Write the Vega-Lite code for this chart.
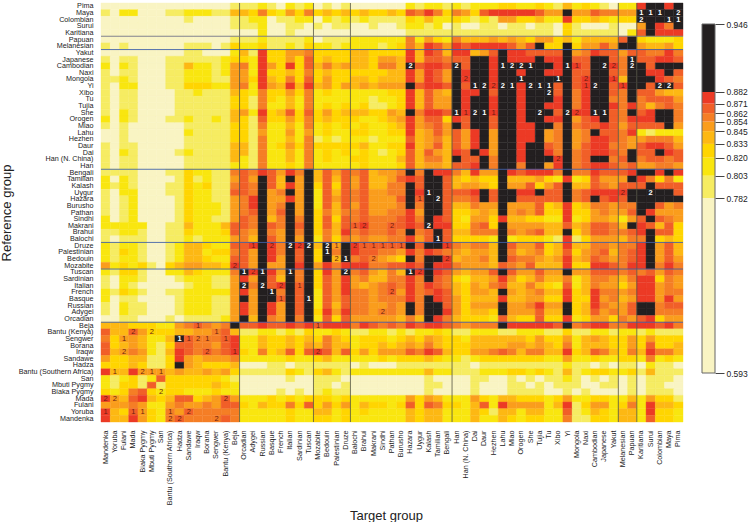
{"$schema":"https://vega.github.io/schema/vega-lite/v6.json","background":"white","padding":{"left":0,"top":1,"right":0,"bottom":0},"config":{"font":"Liberation Sans","view":{"stroke":null}},"datasets":{"targets":[{"i":1,"t":"Mandenka"},{"i":2,"t":"Yoruba"},{"i":3,"t":"Fulani"},{"i":4,"t":"Mada"},{"i":5,"t":"Biaka Pygmy"},{"i":6,"t":"Mbuti Pygmy"},{"i":7,"t":"San"},{"i":8,"t":"Bantu (Southern Africa)"},{"i":9,"t":"Hadza"},{"i":10,"t":"Sandawe"},{"i":11,"t":"Iraqw"},{"i":12,"t":"Borana"},{"i":13,"t":"Sengwer"},{"i":14,"t":"Bantu (Kenya)"},{"i":15,"t":"Beja"},{"i":16,"t":"Orcadian"},{"i":17,"t":"Adygei"},{"i":18,"t":"Russian"},{"i":19,"t":"Basque"},{"i":20,"t":"French"},{"i":21,"t":"Italian"},{"i":22,"t":"Sardinian"},{"i":23,"t":"Tuscan"},{"i":24,"t":"Mozabite"},{"i":25,"t":"Bedouin"},{"i":26,"t":"Palestinian"},{"i":27,"t":"Druze"},{"i":28,"t":"Balochi"},{"i":29,"t":"Brahui"},{"i":30,"t":"Makrani"},{"i":31,"t":"Sindhi"},{"i":32,"t":"Pathan"},{"i":33,"t":"Burusho"},{"i":34,"t":"Hazara"},{"i":35,"t":"Uygur"},{"i":36,"t":"Kalash"},{"i":37,"t":"Tamilian"},{"i":38,"t":"Bengali"},{"i":39,"t":"Han"},{"i":40,"t":"Han (N. China)"},{"i":41,"t":"Dai"},{"i":42,"t":"Daur"},{"i":43,"t":"Hezhen"},{"i":44,"t":"Lahu"},{"i":45,"t":"Miao"},{"i":46,"t":"Orogen"},{"i":47,"t":"She"},{"i":48,"t":"Tujia"},{"i":49,"t":"Tu"},{"i":50,"t":"Xibo"},{"i":51,"t":"Yi"},{"i":52,"t":"Mongola"},{"i":53,"t":"Naxi"},{"i":54,"t":"Cambodian"},{"i":55,"t":"Japanese"},{"i":56,"t":"Yakut"},{"i":57,"t":"Melanesian"},{"i":58,"t":"Papuan"},{"i":59,"t":"Karitiana"},{"i":60,"t":"Surui"},{"i":61,"t":"Colombian"},{"i":62,"t":"Maya"},{"i":63,"t":"Pima"}],"cells":[
{"r":"Pima","v":[0,0,0,0,0,0,0,0,0,0,0,0,0,0,1,1,1,2,1,0,2,1,2,0,1,0,1,0,0,0,0,0,0,2,1,2,2,1,2,1,2,2,2,3,3,2,2,3,2,1,4,2,3,2,1,0,2,2,8,9,9,8,9]},
{"r":"Maya","v":[1,0,2,2,0,0,0,1,1,2,2,2,1,1,4,4,3,6,3,2,5,3,6,3,4,3,4,3,4,3,3,4,3,7,6,8,6,3,6,5,3,7,8,8,8,8,8,7,5,5,9,5,5,7,6,6,5,5,9,9,9,9,9]},
{"r":"Colombian","v":[0,0,0,0,0,0,0,0,0,1,0,0,0,0,1,1,2,2,0,1,1,2,2,0,2,1,2,1,2,1,1,1,1,3,2,4,2,2,3,2,1,2,1,5,5,3,3,4,2,2,8,3,3,4,3,2,3,3,9,9,9,9,9]},
{"r":"Surui","v":[0,0,0,0,0,0,0,0,0,0,0,0,0,0,1,1,1,2,0,0,1,1,0,1,0,1,1,0,0,1,0,0,1,2,2,1,2,0,1,0,0,1,1,0,1,1,0,1,1,0,3,1,0,0,0,1,0,0,5,9,8,6,9]},
{"r":"Karitiana","v":[0,0,0,0,0,0,0,0,0,0,0,0,0,0,0,0,0,2,0,0,1,0,0,0,0,0,0,0,0,0,0,0,0,1,1,1,1,1,1,1,1,1,1,1,1,1,1,1,1,0,3,1,1,1,1,1,0,2,7,9,8,8,8]},
{"r":"Papuan","v":[0,0,0,0,0,0,0,0,0,0,0,0,0,0,1,1,1,2,1,1,1,1,2,0,1,1,1,2,2,2,2,2,2,6,2,5,3,2,6,4,4,4,5,4,5,4,3,5,5,3,4,2,4,4,4,4,7,9,3,2,2,2,3]},
{"r":"Melanesian","v":[1,0,1,0,0,0,0,0,0,1,1,1,0,1,3,2,2,3,1,1,2,1,3,2,2,1,2,2,2,2,1,2,3,6,4,8,7,5,8,7,8,8,8,8,7,5,7,9,3,3,9,3,5,5,7,5,9,9,5,4,4,5,3]},
{"r":"Yakut","v":[0,0,0,0,0,0,0,0,0,1,1,0,0,0,2,4,1,8,3,3,5,5,6,3,3,3,3,4,4,3,3,3,3,8,4,8,7,4,8,8,4,5,7,9,8,8,7,7,7,7,9,5,6,8,7,7,5,7,7,6,6,8,6]},
{"r":"Japanese","v":[1,0,1,1,0,0,0,1,1,1,1,1,1,2,3,3,2,8,3,3,5,3,7,3,4,3,3,4,4,3,5,5,4,8,4,7,7,6,7,7,9,9,8,9,8,8,8,9,8,8,9,7,7,9,9,7,6,9,7,7,8,8,7]},
{"r":"Cambodian","v":[2,0,2,1,0,0,0,1,1,4,2,2,1,2,5,6,2,8,5,3,8,3,7,4,6,4,5,4,4,3,6,6,4,9,7,8,8,7,9,7,9,9,8,9,9,9,9,9,9,8,9,8,7,9,9,8,6,9,9,7,9,9,9]},
{"r":"Naxi","v":[1,0,1,1,0,0,0,1,1,2,2,2,1,2,5,5,2,8,3,3,4,3,6,3,4,3,3,3,3,3,3,4,4,8,5,8,7,5,9,8,9,9,8,9,9,8,9,9,8,8,9,7,7,9,9,7,6,9,9,8,8,9,7]},
{"r":"Mongola","v":[1,1,2,1,0,0,0,1,1,2,2,2,1,1,5,5,3,8,4,3,6,3,7,3,5,3,3,4,4,3,4,4,4,8,5,8,7,5,9,8,9,9,8,9,9,9,9,9,9,9,9,7,8,9,9,8,4,9,9,9,8,7,6]},
{"r":"Yi","v":[1,0,2,2,0,0,0,1,1,3,3,3,2,2,5,6,2,8,5,4,8,4,8,4,5,3,5,4,5,4,5,5,5,9,7,8,8,7,9,7,9,9,8,9,9,8,9,9,9,7,9,7,8,9,9,7,8,9,9,7,9,9,7]},
{"r":"Xibo","v":[1,0,1,1,0,0,0,0,1,1,2,1,1,1,4,3,2,6,3,3,5,3,6,2,3,2,2,2,2,2,2,3,3,8,4,7,5,4,9,8,8,9,7,9,9,8,9,9,9,7,9,6,8,9,9,7,6,9,7,7,5,4,4]},
{"r":"Tu","v":[1,0,1,1,0,0,0,0,1,1,1,1,1,1,3,3,1,6,3,2,4,2,6,2,2,2,2,2,2,1,2,2,3,8,4,7,5,5,9,8,9,9,8,9,9,8,9,9,9,8,9,6,8,9,9,6,6,9,6,7,7,7,5]},
{"r":"Tujia","v":[1,0,1,1,0,0,0,0,1,1,1,1,1,1,3,3,1,6,2,2,4,2,6,2,3,2,3,2,3,1,1,2,3,8,4,7,5,5,9,8,9,9,8,9,9,8,9,9,8,8,9,6,8,9,9,8,6,8,6,4,6,7,6]},
{"r":"She","v":[1,0,2,1,0,0,0,0,1,1,1,1,1,1,4,5,2,8,3,4,7,3,7,3,5,3,4,4,4,3,3,5,4,9,6,8,8,7,9,8,9,9,8,9,9,8,9,9,9,7,9,8,8,9,9,7,6,9,7,8,9,9,6]},
{"r":"Orogen","v":[2,0,2,1,0,0,0,1,1,2,1,1,2,1,4,3,1,7,3,3,5,3,6,3,4,3,3,3,2,2,3,4,5,8,5,7,7,3,8,7,9,9,7,9,9,8,9,9,8,8,9,5,7,8,9,7,6,8,8,8,9,9,6]},
{"r":"Miao","v":[1,0,1,0,0,0,0,0,0,1,1,1,1,1,3,3,1,6,2,2,4,2,6,2,3,2,3,2,3,2,2,3,4,8,5,6,7,5,9,7,9,9,7,9,9,8,8,9,9,6,9,6,7,7,8,7,5,7,7,7,7,9,5]},
{"r":"Lahu","v":[0,0,1,0,0,0,0,0,0,2,1,1,1,1,3,3,1,5,2,2,5,2,5,2,3,2,2,3,3,2,2,3,3,8,4,5,7,5,7,5,8,9,5,9,9,8,8,9,5,6,9,5,6,9,7,7,6,8,2,1,2,2,2]},
{"r":"Hezhen","v":[0,0,1,0,0,0,0,0,0,1,1,1,1,1,3,3,1,6,2,2,4,2,6,1,2,1,2,2,2,1,2,2,2,7,4,5,6,4,7,5,8,9,5,9,9,8,8,9,5,6,9,5,6,8,8,7,6,5,5,6,6,6,4]},
{"r":"Daur","v":[1,0,1,1,0,0,0,0,0,1,1,1,1,1,4,4,1,6,2,3,5,3,6,3,3,3,3,3,4,2,2,3,3,8,4,5,7,4,7,5,8,9,5,9,9,8,9,9,7,6,9,5,7,8,8,6,6,5,7,8,8,7,5]},
{"r":"Dai","v":[1,0,2,1,0,0,0,0,1,2,1,1,1,1,4,4,1,6,2,2,4,2,6,2,3,2,3,2,3,2,1,2,3,7,4,7,5,4,8,7,9,8,5,9,9,8,9,9,8,6,9,6,7,8,8,7,6,9,7,7,9,8,7]},
{"r":"Han (N. China)","v":[1,0,1,1,0,0,0,0,0,1,1,1,1,1,4,2,1,6,2,2,4,2,6,2,3,2,2,3,3,2,2,2,4,7,4,6,6,4,9,7,7,9,6,9,9,8,9,9,9,8,9,6,7,9,9,6,7,9,6,7,7,6,7]},
{"r":"Han","v":[1,0,1,1,0,0,0,0,0,1,1,1,1,1,2,2,1,6,2,2,3,2,6,2,2,2,2,2,3,2,2,2,3,7,4,5,5,4,7,7,8,9,6,9,9,6,9,9,5,8,9,6,7,8,8,7,6,7,5,5,6,6,5]},
{"r":"Bengali","v":[1,1,1,1,0,0,0,1,1,3,2,2,1,1,6,7,6,8,7,5,8,6,9,4,7,5,7,6,7,4,5,5,6,9,6,9,8,8,6,4,8,5,5,9,8,7,8,8,8,6,9,6,6,8,7,7,7,8,9,9,8,9,8]},
{"r":"Tamilian","v":[2,0,2,1,0,0,0,0,1,3,1,2,1,1,5,7,5,9,7,4,9,5,9,4,7,4,7,5,7,4,4,5,7,8,7,9,9,7,4,3,4,3,3,9,4,4,4,5,3,2,8,2,3,7,5,5,5,9,8,6,3,6,2]},
{"r":"Kalash","v":[2,1,2,1,0,0,0,1,1,3,2,3,1,1,6,7,6,9,7,4,8,5,9,3,7,3,7,5,7,4,4,6,6,9,7,9,9,7,4,5,5,4,3,9,5,5,7,3,5,7,9,4,4,7,6,5,7,7,7,9,7,7,7]},
{"r":"Uygur","v":[1,0,2,2,0,0,0,1,1,3,2,2,1,1,7,7,6,9,5,6,9,5,9,2,7,4,7,6,7,5,5,6,6,9,8,9,9,7,7,7,8,9,7,9,9,8,8,9,7,7,9,6,7,8,8,8,8,9,9,9,9,9,7]},
{"r":"Hazara","v":[1,0,1,2,0,0,0,0,1,3,2,2,1,1,5,6,8,9,5,5,8,5,9,2,7,5,7,6,7,5,5,5,7,9,7,9,9,7,6,6,7,9,7,9,9,7,7,7,7,7,9,6,7,9,7,8,7,9,9,9,9,9,9]},
{"r":"Burusho","v":[1,0,1,2,0,0,0,0,1,3,2,2,2,1,5,6,8,9,5,6,9,5,9,2,7,4,7,5,7,5,5,5,6,9,6,9,9,7,4,4,6,5,5,9,5,5,5,7,3,4,8,3,4,6,6,5,6,6,9,9,7,5,6]},
{"r":"Pathan","v":[1,0,1,2,0,0,0,0,1,3,2,2,2,1,5,6,7,9,5,7,9,5,9,3,6,4,6,6,7,5,5,6,6,8,5,9,9,7,3,3,4,5,4,9,5,6,5,7,3,3,8,3,3,5,6,5,5,7,9,8,5,5,5]},
{"r":"Sindhi","v":[2,0,1,2,0,0,0,0,1,3,2,2,1,1,5,7,6,9,4,6,9,6,9,3,7,3,7,6,7,6,6,6,7,8,6,9,8,7,3,2,5,5,3,8,4,4,3,3,2,2,8,2,3,5,5,4,2,5,7,9,7,6,5]},
{"r":"Makrani","v":[2,2,2,2,2,0,0,1,1,4,2,2,2,4,7,7,6,9,7,6,9,7,9,3,7,4,7,7,8,6,6,7,7,8,7,9,8,8,3,3,6,7,3,9,5,5,5,5,4,4,7,4,5,7,7,6,4,9,8,7,4,7,3]},
{"r":"Brahui","v":[1,1,2,2,1,0,0,1,1,3,2,2,2,3,7,6,5,9,6,5,9,6,9,3,6,4,8,6,7,6,6,7,6,9,6,7,9,7,4,4,6,6,6,9,6,5,6,7,4,4,9,3,5,7,7,6,6,7,8,9,7,7,3]},
{"r":"Balochi","v":[1,0,1,1,1,0,0,1,1,2,1,2,2,2,5,6,4,9,7,5,9,5,9,2,6,3,6,5,6,5,5,6,6,8,5,7,9,7,3,3,3,3,2,9,2,3,3,3,2,1,8,1,3,5,5,5,4,6,6,9,3,4,3]},
{"r":"Druze","v":[2,1,2,2,1,0,0,1,2,4,4,3,2,2,7,7,8,9,8,6,9,8,9,4,9,5,9,8,7,7,7,7,7,9,7,9,9,8,6,5,6,6,4,9,7,5,5,7,3,4,8,4,4,6,6,5,6,6,8,9,5,7,4]},
{"r":"Palestinian","v":[2,1,3,2,1,0,0,1,2,4,4,2,3,3,6,7,5,9,8,6,9,7,9,3,9,6,9,8,7,7,6,6,5,8,6,8,7,6,5,4,5,5,4,9,6,4,5,6,3,4,7,3,5,6,7,4,6,7,8,9,5,7,4]},
{"r":"Bedouin","v":[2,1,2,2,1,0,0,1,2,4,4,3,2,2,7,7,5,9,8,5,9,7,9,3,9,4,9,6,7,6,5,4,3,9,6,9,9,8,4,5,5,6,4,9,7,6,6,5,4,5,8,4,5,7,6,5,6,7,8,9,5,7,5]},
{"r":"Mozabite","v":[5,2,3,2,3,1,0,3,4,5,5,4,4,3,8,7,5,9,5,5,9,8,9,5,8,6,8,8,8,6,6,7,7,8,7,9,8,8,6,5,5,5,4,7,6,5,7,4,4,4,8,3,3,8,8,7,6,8,8,9,6,8,6]},
{"r":"Tuscan","v":[2,1,3,3,1,0,0,2,2,4,3,2,2,2,6,9,8,9,8,5,9,6,9,3,8,5,9,6,7,5,4,6,4,9,8,9,8,7,5,4,5,5,7,9,7,5,5,7,5,5,9,5,5,7,7,7,6,7,6,7,5,7,6]},
{"r":"Sardinian","v":[1,0,2,2,1,0,0,0,1,2,2,2,1,1,5,8,5,9,7,4,9,6,9,3,7,5,8,5,6,4,4,6,6,8,6,9,7,6,3,2,4,4,5,8,5,3,4,6,4,4,6,2,4,6,6,5,4,6,8,8,3,6,5]},
{"r":"Italian","v":[1,0,2,1,0,0,0,0,0,1,2,2,1,1,5,9,6,9,7,8,9,7,9,3,7,5,8,5,4,5,6,7,6,8,6,8,7,6,4,3,5,4,6,7,4,4,6,4,3,2,7,2,4,6,5,5,3,5,8,8,5,6,5]},
{"r":"French","v":[2,1,3,2,1,0,0,1,1,2,2,2,2,2,5,8,5,9,9,6,9,7,9,2,7,5,8,6,6,5,6,7,5,8,6,7,8,7,4,3,5,5,4,9,5,4,5,6,4,4,8,3,4,8,6,6,5,6,8,8,5,6,6]},
{"r":"Basque","v":[2,0,1,1,0,0,0,0,1,2,2,2,1,1,5,9,5,9,9,7,9,7,9,2,7,5,7,6,6,5,6,6,6,8,6,9,8,7,5,3,4,4,4,8,4,4,5,5,3,3,8,3,3,8,5,6,4,5,8,8,5,8,5]},
{"r":"Russian","v":[1,0,2,1,1,0,0,0,1,2,2,2,1,1,5,8,5,9,8,5,9,7,9,2,7,4,7,6,6,5,5,6,5,9,6,9,9,7,5,3,5,5,5,9,5,5,6,8,5,5,9,3,4,8,6,5,5,7,9,9,6,7,7]},
{"r":"Adygei","v":[1,0,2,1,1,0,0,0,1,2,2,2,1,1,5,8,5,9,8,5,9,7,9,3,8,5,8,6,6,5,6,6,5,9,6,9,9,8,5,3,4,4,3,9,5,5,5,7,4,4,9,3,4,7,5,6,5,7,9,9,6,6,6]},
{"r":"Orcadian","v":[0,0,1,1,0,0,0,1,0,1,1,1,1,2,5,9,4,9,6,5,9,6,9,2,7,3,7,5,5,5,5,5,4,6,4,9,8,6,4,3,3,3,2,7,4,3,3,7,3,3,8,2,3,5,5,3,6,5,7,8,3,5,5]},
{"r":"Beja","v":[4,4,4,3,3,3,2,2,5,6,7,6,5,6,9,7,7,8,7,7,8,7,8,7,8,8,8,6,8,7,6,7,6,8,7,8,8,7,6,5,6,6,6,9,8,8,8,8,8,7,9,6,7,8,8,6,6,8,8,8,7,8,6]},
{"r":"Bantu (Kenya)","v":[7,4,4,7,5,3,3,3,4,4,5,5,6,7,4,1,1,2,2,1,2,1,3,2,2,3,2,1,1,2,2,1,2,1,2,2,3,2,1,1,2,2,2,1,1,2,2,2,1,1,3,1,1,2,2,1,2,2,1,2,1,1,1]},
{"r":"Sengwer","v":[6,3,5,5,4,2,2,4,9,7,6,6,6,7,8,2,2,4,3,3,4,3,4,3,6,4,3,2,3,3,3,2,3,4,3,5,4,3,3,2,4,4,4,4,4,4,3,5,3,3,5,2,4,5,4,3,3,5,3,5,3,3,3]},
{"r":"Borana","v":[7,3,4,5,4,2,1,3,7,7,6,6,5,7,8,2,2,4,3,3,4,3,5,4,6,4,4,2,3,3,4,3,4,5,4,6,4,3,3,3,4,4,4,4,5,5,4,5,4,3,6,2,4,4,4,3,3,5,3,7,3,3,4]},
{"r":"Iraqw","v":[7,4,5,6,5,2,1,4,8,7,6,7,6,7,8,3,2,6,3,4,7,3,7,8,7,4,7,3,5,3,5,5,5,7,6,8,7,4,3,3,5,5,6,7,6,4,6,6,4,4,8,3,4,7,6,4,3,6,4,8,6,6,4]},
{"r":"Sandawe","v":[5,3,3,4,4,1,1,3,8,5,4,5,5,5,6,2,2,2,2,2,3,2,2,3,4,2,2,2,2,2,3,2,3,3,3,4,3,2,2,1,2,3,3,3,3,3,3,3,2,2,5,2,2,3,2,2,3,3,2,6,2,3,2]},
{"r":"Hadza","v":[3,3,3,4,3,1,1,3,9,5,4,3,3,3,4,0,0,0,1,1,0,1,1,1,1,1,1,0,1,0,0,0,1,1,1,1,1,1,1,1,0,1,1,1,1,1,1,1,1,1,2,1,1,0,1,0,1,1,0,2,1,1,0]},
{"r":"Bantu (Southern Africa)","v":[8,4,4,8,5,5,5,4,5,4,4,5,4,5,3,1,1,1,1,1,3,2,1,3,4,2,1,2,2,2,2,2,2,2,2,4,2,2,1,1,1,2,2,2,3,3,2,3,2,1,4,1,2,3,3,2,2,3,1,4,1,1,1]},
{"r":"San","v":[2,1,2,3,1,2,7,3,3,3,3,3,3,2,1,0,0,0,0,0,1,0,0,1,1,1,0,0,0,0,0,0,0,0,0,1,0,0,0,0,1,1,0,0,1,0,1,0,1,1,2,1,0,1,0,1,0,1,0,1,1,1,0]},
{"r":"Mbuti Pygmy","v":[2,1,3,3,1,7,1,3,3,3,3,3,4,3,2,0,0,0,0,0,0,0,0,1,1,0,1,0,0,0,0,0,0,0,0,1,1,0,0,0,1,0,0,0,1,1,0,1,0,1,1,1,0,0,1,1,0,1,0,1,1,0,0]},
{"r":"Biaka Pygmy","v":[3,2,3,6,7,3,2,3,3,2,2,2,3,2,2,0,0,0,0,1,0,1,0,1,2,1,1,0,0,0,0,0,0,0,0,1,0,0,0,0,1,0,0,0,1,1,1,1,0,0,1,0,1,0,0,0,0,1,0,1,1,1,0]},
{"r":"Mada","v":[8,5,4,7,8,4,3,4,7,7,3,4,5,7,5,2,2,2,3,2,3,2,3,3,3,2,3,2,2,2,2,2,2,5,3,5,4,2,2,2,5,3,2,4,4,3,3,3,2,3,5,2,2,3,3,2,2,4,2,5,3,3,1]},
{"r":"Fulani","v":[5,5,5,6,5,2,2,5,6,5,5,6,5,7,7,3,2,4,3,3,6,3,7,3,5,3,5,2,4,3,3,2,3,7,3,7,6,3,3,2,4,7,2,8,5,5,5,5,2,4,8,1,3,5,5,2,3,6,2,8,4,4,3]},
{"r":"Yoruba","v":[8,4,3,7,5,3,2,6,5,7,6,6,6,6,6,2,2,2,2,2,3,2,2,4,4,2,3,2,3,2,2,2,2,4,3,4,4,2,2,2,4,3,1,4,4,2,4,4,2,2,7,1,2,4,3,2,4,4,2,8,3,3,2]},
{"r":"Mandenka","v":[8,4,4,8,5,3,2,6,7,6,6,6,6,7,6,2,2,2,2,2,3,2,2,3,3,2,3,2,2,2,2,2,2,4,3,4,4,2,2,2,4,2,2,4,3,2,3,3,2,2,6,1,1,3,3,2,4,4,2,7,3,3,2]}
],"onBlack":[{"r":"Maya","t":"Karitiana","n":"1"},{"r":"Maya","t":"Surui","n":"1"},{"r":"Maya","t":"Colombian","n":"1"},{"r":"Maya","t":"Pima","n":"2"},{"r":"Colombian","t":"Karitiana","n":"2"},{"r":"Colombian","t":"Maya","n":"1"},{"r":"Colombian","t":"Pima","n":"1"},{"r":"Japanese","t":"Papuan","n":"1"},{"r":"Cambodian","t":"Hazara","n":"2"},{"r":"Cambodian","t":"Han","n":"2"},{"r":"Cambodian","t":"Lahu","n":"1"},{"r":"Cambodian","t":"Miao","n":"2"},{"r":"Cambodian","t":"Orogen","n":"2"},{"r":"Cambodian","t":"She","n":"1"},{"r":"Cambodian","t":"Yi","n":"1"},{"r":"Cambodian","t":"Japanese","n":"2"},{"r":"Cambodian","t":"Papuan","n":"2"},{"r":"Mongola","t":"Orogen","n":"1"},{"r":"Mongola","t":"Xibo","n":"1"},{"r":"Yi","t":"Dai","n":"1"},{"r":"Yi","t":"Daur","n":"2"},{"r":"Yi","t":"Lahu","n":"2"},{"r":"Yi","t":"Miao","n":"1"},{"r":"Yi","t":"She","n":"2"},{"r":"Yi","t":"Tujia","n":"1"},{"r":"Yi","t":"Tu","n":"1"},{"r":"Yi","t":"Cambodian","n":"2"},{"r":"Yi","t":"Colombian","n":"2"},{"r":"Yi","t":"Maya","n":"2"},{"r":"Xibo","t":"Tu","n":"2"},{"r":"She","t":"Han","n":"1"},{"r":"She","t":"Dai","n":"2"},{"r":"She","t":"Daur","n":"1"},{"r":"She","t":"Tujia","n":"2"},{"r":"She","t":"Yi","n":"2"},{"r":"She","t":"Cambodian","n":"1"},{"r":"She","t":"Japanese","n":"1"},{"r":"Uygur","t":"Kalash","n":"1"},{"r":"Uygur","t":"Surui","n":"2"},{"r":"Hazara","t":"Tamilian","n":"2"},{"r":"Makrani","t":"Kalash","n":"2"},{"r":"Balochi","t":"Tamilian","n":"1"},{"r":"Druze","t":"Italian","n":"2"},{"r":"Druze","t":"Tuscan","n":"2"},{"r":"Druze","t":"Bedouin","n":"2"},{"r":"Palestinian","t":"Bedouin","n":"1"},{"r":"Bedouin","t":"Druze","n":"1"},{"r":"Tuscan","t":"Orcadian","n":"1"},{"r":"Tuscan","t":"Russian","n":"1"},{"r":"Tuscan","t":"Italian","n":"1"},{"r":"Tuscan","t":"Druze","n":"2"},{"r":"Tuscan","t":"Hazara","n":"1"},{"r":"Italian","t":"Orcadian","n":"2"},{"r":"Italian","t":"Russian","n":"2"},{"r":"French","t":"Basque","n":"1"},{"r":"Basque","t":"Tuscan","n":"1"},{"r":"Sengwer","t":"Hadza","n":"1"}],"onColour":[{"r":"Yi","t":"Hezhen","n":"2"},{"r":"Mongola","t":"Han (N. China)","n":"2"},{"r":"Cambodian","t":"Mongola","n":"1"},{"r":"Cambodian","t":"Yakut","n":"2"},{"r":"Mongola","t":"Naxi","n":"2"},{"r":"Mongola","t":"Yakut","n":"1"},{"r":"Yi","t":"Naxi","n":"1"},{"r":"Yi","t":"Melanesian","n":"1"},{"r":"She","t":"Han (N. China)","n":"1"},{"r":"She","t":"Hezhen","n":"1"},{"r":"She","t":"Mongola","n":"2"},{"r":"Han (N. China)","t":"Xibo","n":"2"},{"r":"Uygur","t":"Melanesian","n":"2"},{"r":"Hazara","t":"Uygur","n":"1"},{"r":"Makrani","t":"Balochi","n":"1"},{"r":"Makrani","t":"Brahui","n":"2"},{"r":"Makrani","t":"Pathan","n":"2"},{"r":"Druze","t":"Adygei","n":"1"},{"r":"Druze","t":"Basque","n":"2"},{"r":"Druze","t":"Sardinian","n":"2"},{"r":"Druze","t":"Palestinian","n":"1"},{"r":"Druze","t":"Balochi","n":"2"},{"r":"Druze","t":"Brahui","n":"1"},{"r":"Druze","t":"Makrani","n":"1"},{"r":"Druze","t":"Sindhi","n":"1"},{"r":"Druze","t":"Pathan","n":"1"},{"r":"Druze","t":"Burusho","n":"1"},{"r":"Druze","t":"Bengali","n":"1"},{"r":"Bedouin","t":"Palestinian","n":"2"},{"r":"Bedouin","t":"Makrani","n":"2"},{"r":"Bedouin","t":"Bengali","n":"2"},{"r":"Mozabite","t":"Beja","n":"2"},{"r":"Tuscan","t":"Adygei","n":"2"},{"r":"Tuscan","t":"Uygur","n":"2"},{"r":"Italian","t":"French","n":"2"},{"r":"Italian","t":"Sardinian","n":"1"},{"r":"French","t":"Pathan","n":"2"},{"r":"Basque","t":"French","n":"1"},{"r":"Adygei","t":"Sindhi","n":"2"},{"r":"Beja","t":"Iraqw","n":"1"},{"r":"Beja","t":"Mozabite","n":"1"},{"r":"Bantu (Kenya)","t":"Mada","n":"2"},{"r":"Bantu (Kenya)","t":"Mbuti Pygmy","n":"2"},{"r":"Bantu (Kenya)","t":"Sengwer","n":"1"},{"r":"Sengwer","t":"Fulani","n":"1"},{"r":"Sengwer","t":"Sandawe","n":"1"},{"r":"Sengwer","t":"Iraqw","n":"2"},{"r":"Sengwer","t":"Borana","n":"1"},{"r":"Sengwer","t":"Bantu (Kenya)","n":"1"},{"r":"Iraqw","t":"Fulani","n":"2"},{"r":"Iraqw","t":"Borana","n":"2"},{"r":"Iraqw","t":"Beja","n":"1"},{"r":"Iraqw","t":"Mozabite","n":"2"},{"r":"Bantu (Southern Africa)","t":"Yoruba","n":"1"},{"r":"Bantu (Southern Africa)","t":"Biaka Pygmy","n":"2"},{"r":"Bantu (Southern Africa)","t":"Mbuti Pygmy","n":"1"},{"r":"Bantu (Southern Africa)","t":"San","n":"1"},{"r":"Biaka Pygmy","t":"San","n":"2"},{"r":"Mada","t":"Mandenka","n":"2"},{"r":"Mada","t":"Yoruba","n":"2"},{"r":"Mada","t":"Bantu (Kenya)","n":"2"},{"r":"Yoruba","t":"Mandenka","n":"1"},{"r":"Yoruba","t":"Mada","n":"1"},{"r":"Yoruba","t":"Biaka Pygmy","n":"1"},{"r":"Yoruba","t":"Bantu (Southern Africa)","n":"1"},{"r":"Yoruba","t":"Sandawe","n":"2"},{"r":"Mandenka","t":"Bantu (Southern Africa)","n":"2"},{"r":"Mandenka","t":"Hadza","n":"2"},{"r":"Mandenka","t":"Sengwer","n":"2"}],"bands":[{"lo":0.593,"hi":0.782,"c":0},{"lo":0.782,"hi":0.803,"c":1},{"lo":0.803,"hi":0.82,"c":2},{"lo":0.82,"hi":0.833,"c":3},{"lo":0.833,"hi":0.845,"c":4},{"lo":0.845,"hi":0.854,"c":5},{"lo":0.854,"hi":0.862,"c":6},{"lo":0.862,"hi":0.871,"c":7},{"lo":0.871,"hi":0.882,"c":8},{"lo":0.882,"hi":0.946,"c":9}]},"hconcat":[{"width":582,"height":419,"layer":[{"data":{"name":"cells"},"transform":[{"flatten":["v"]},{"window":[{"op":"row_number","as":"i"}],"groupby":["r"]},{"lookup":"i","from":{"data":{"name":"targets"},"key":"i","fields":["t"]}}],"mark":{"type":"rect","strokeWidth":0.4},"encoding":{"x":{"field":"t","type":"nominal","title":"Target group","scale":{"paddingInner":0,"paddingOuter":0,"domain":["Mandenka","Yoruba","Fulani","Mada","Biaka Pygmy","Mbuti Pygmy","San","Bantu (Southern Africa)","Hadza","Sandawe","Iraqw","Borana","Sengwer","Bantu (Kenya)","Beja","Orcadian","Adygei","Russian","Basque","French","Italian","Sardinian","Tuscan","Mozabite","Bedouin","Palestinian","Druze","Balochi","Brahui","Makrani","Sindhi","Pathan","Burusho","Hazara","Uygur","Kalash","Tamilian","Bengali","Han","Han (N. China)","Dai","Daur","Hezhen","Lahu","Miao","Orogen","She","Tujia","Tu","Xibo","Yi","Mongola","Naxi","Cambodian","Japanese","Yakut","Melanesian","Papuan","Karitiana","Surui","Colombian","Maya","Pima"]},"axis":{"labelAngle":-90,"labelAlign":"right","labelBaseline":"middle","labelFontSize":7.2,"labelColor":"#222","labelPadding":8,"labelOverlap":false,"labelBound":false,"ticks":false,"domain":false,"grid":false,"titleFontSize":13,"titleFontWeight":"normal","titleColor":"#222","titleX":285,"titleY":97,"titleBaseline":"alphabetic"}},"y":{"field":"r","type":"nominal","title":"Reference group","scale":{"paddingInner":0,"paddingOuter":0,"domain":["Pima","Maya","Colombian","Surui","Karitiana","Papuan","Melanesian","Yakut","Japanese","Cambodian","Naxi","Mongola","Yi","Xibo","Tu","Tujia","She","Orogen","Miao","Lahu","Hezhen","Daur","Dai","Han (N. China)","Han","Bengali","Tamilian","Kalash","Uygur","Hazara","Burusho","Pathan","Sindhi","Makrani","Brahui","Balochi","Druze","Palestinian","Bedouin","Mozabite","Tuscan","Sardinian","Italian","French","Basque","Russian","Adygei","Orcadian","Beja","Bantu (Kenya)","Sengwer","Borana","Iraqw","Sandawe","Hadza","Bantu (Southern Africa)","San","Mbuti Pygmy","Biaka Pygmy","Mada","Fulani","Yoruba","Mandenka"]},"axis":{"labelFontSize":7.2,"labelColor":"#222","labelPadding":8,"labelLimit":150,"labelOverlap":false,"labelBound":false,"ticks":false,"domain":false,"grid":false,"titleFontSize":13,"titleFontWeight":"normal","titleColor":"#222","titlePadding":4}},"color":{"field":"v","type":"ordinal","legend":null,"scale":{"domain":[0,1,2,3,4,5,6,7,8,9],"range":["#f9f4c3","#f6ec62","#f9e60f","#ffd500","#fdb813","#fa9d1c","#f57e25","#f15f28","#ec3a25","#231f20"]}},"stroke":{"field":"v","type":"ordinal","legend":null,"scale":{"domain":[0,1,2,3,4,5,6,7,8,9],"range":["#f9f4c3","#f6ec62","#f9e60f","#ffd500","#fdb813","#fa9d1c","#f57e25","#f15f28","#ec3a25","#231f20"]}}}},{"data":{"name":"onBlack"},"mark":{"type":"text","fontSize":7.5,"fontWeight":"bold","color":"#ffffff"},"encoding":{"x":{"field":"t","type":"nominal","title":"Target group"},"y":{"field":"r","type":"nominal","title":"Reference group"},"text":{"field":"n"}}},{"data":{"name":"onColour"},"mark":{"type":"text","fontSize":7.5,"color":"#6b1d12"},"encoding":{"x":{"field":"t","type":"nominal","title":"Target group"},"y":{"field":"r","type":"nominal","title":"Reference group"},"text":{"field":"n"}}},{"data":{"values":[{"t":"Orcadian"},{"t":"Mozabite"},{"t":"Balochi"},{"t":"Han"},{"t":"Melanesian"},{"t":"Karitiana"}]},"mark":{"type":"rule","color":"#555544","strokeWidth":1,"opacity":0.8},"encoding":{"x":{"field":"t","type":"nominal","bandPosition":0,"title":"Target group"}}},{"data":{"values":[{"r":"Papuan"}]},"mark":{"type":"rule","color":"#777788","strokeWidth":1,"opacity":0.9},"encoding":{"y":{"field":"r","type":"nominal","bandPosition":0,"title":"Reference group"}}},{"data":{"values":[{"r":"Yakut"},{"r":"Bengali"},{"r":"Druze"},{"r":"Tuscan"},{"r":"Beja"}]},"mark":{"type":"rule","color":"#3a5ca8","strokeWidth":1,"opacity":0.85},"encoding":{"y":{"field":"r","type":"nominal","bandPosition":0,"title":"Reference group"}}}]},{"width":13,"height":419,"layer":[{"data":{"name":"bands"},"mark":{"type":"rect"},"encoding":{"y":{"field":"lo","type":"quantitative","title":null,"scale":{"domain":[0.593,0.782,0.946],"range":[370,195,21],"nice":false,"zero":false},"axis":{"orient":"right","values":[0.593,0.782,0.803,0.82,0.833,0.845,0.854,0.862,0.871,0.882,0.946],"format":".3f","domain":false,"grid":false,"tickSize":9,"tickColor":"#444","labelFontSize":8.5,"labelColor":"#222","labelPadding":2,"labelOverlap":false,"labelBound":false}},"y2":{"field":"hi"},"color":{"field":"c","type":"ordinal","legend":null,"scale":{"domain":[0,1,2,3,4,5,6,7,8,9],"range":["#f9f4c3","#f6ec62","#f9e60f","#ffd500","#fdb813","#fa9d1c","#f57e25","#f15f28","#ec3a25","#231f20"]}}}},{"data":{"values":[{"lo":0.593,"hi":0.946}]},"mark":{"type":"rect","fillOpacity":0,"stroke":"#666666","strokeWidth":1},"encoding":{"y":{"field":"lo","type":"quantitative","title":null},"y2":{"field":"hi"}}}]}],"spacing":17}
